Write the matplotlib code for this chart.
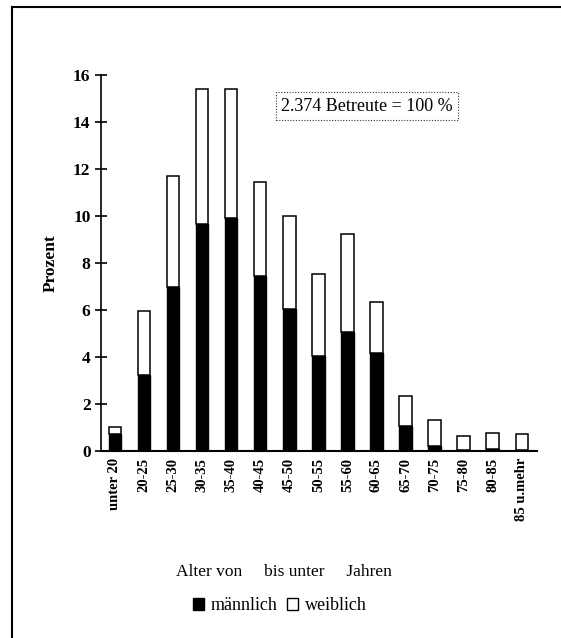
import numpy as np
import matplotlib.pyplot as plt
from matplotlib.lines import Line2D
from matplotlib.patches import Patch

#%%
age_groups = ['unter 20', '20-25', '25-30', '30-35', '35-40', '40-45', '45-50', '50-55',
              '55-60', '60-65', '65-70', '70-75', '75-80', '80-85', '85 u.mehr']
maennlich = [0.71, 3.25, 6.98, 9.66, 9.93, 7.47, 6.06, 4.04, 5.08, 4.16, 1.08, 0.21, 0.05, 0.08, 0.06]
weiblich = [0.30, 2.71, 4.73, 5.77, 5.50, 3.99, 3.95, 3.49, 4.15, 2.19, 1.26, 1.11, 0.60, 0.71, 0.65]
y_ticks = [0, 2, 4, 6, 8, 10, 12, 14, 16]

serif = ['Liberation Serif', 'DejaVu Serif']
plt.rcParams['font.family'] = serif

#%%
fig = plt.figure(figsize=(5.61, 6.38), dpi=100)
ax = fig.add_axes([0.180, 0.293, 0.777, 0.589])

x = np.arange(len(age_groups))
ax.bar(x, maennlich, width=0.43, color='black', edgecolor='black', linewidth=1)
ax.bar(x, weiblich, width=0.43, bottom=maennlich, color='white', edgecolor='black', linewidth=1.1)

ax.set_xlim(-0.48, 14.52)
ax.set_ylim(0, 16)
ax.set_yticks(y_ticks)
ax.set_yticklabels([str(t) for t in y_ticks], fontsize=12.5, fontweight='bold')
ax.tick_params(axis='y', direction='inout', length=9, width=1.2, pad=3)
ax.set_xticks(x)
ax.set_xticklabels(age_groups, rotation=90, fontsize=10.5, fontweight='bold')
ax.tick_params(axis='x', length=0, pad=5)
for side in ['top', 'right']:
    ax.spines[side].set_visible(False)
ax.spines['left'].set_linewidth(1.2)
ax.spines['bottom'].set_linewidth(1.5)

ax.set_ylabel('Prozent', fontsize=12.5, fontweight='bold', labelpad=10)

ax.text(0.61, 0.918, '2.374 Betreute = 100 %', transform=ax.transAxes, fontsize=13,
        ha='center', va='center',
        bbox=dict(boxstyle='square,pad=0.3', facecolor='white', edgecolor='#333333',
                  linestyle=(0, (1, 1.5)), linewidth=0.8))

fig.text(284 / 561, 1 - 572 / 638, 'Alter von     bis unter     Jahren', fontsize=12.5,
         ha='center', va='center')

handles = [Patch(facecolor='black', edgecolor='black'),
           Patch(facecolor='white', edgecolor='black')]
fig.legend(handles, ['männlich', 'weiblich'], loc='center', bbox_to_anchor=(280 / 561, 1 - 606 / 638),
           ncol=2, frameon=False, fontsize=13, handlelength=0.6, handleheight=0.6,
           handletextpad=0.4, columnspacing=0.5)

# Rahmen links und oben
fig.add_artist(Line2D([12 / 561, 12 / 561], [0, 1 - 7 / 638], transform=fig.transFigure,
                      color='black', linewidth=1.5))
fig.add_artist(Line2D([12 / 561, 1], [1 - 7 / 638, 1 - 7 / 638], transform=fig.transFigure,
                      color='black', linewidth=1.5))

fig.savefig('out.png', dpi=100)
